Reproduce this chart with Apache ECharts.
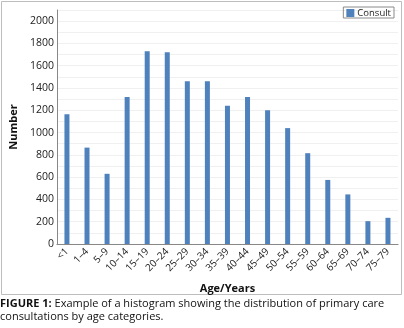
<!DOCTYPE html>
<html><head><meta charset="utf-8">
<script src="https://cdn.jsdelivr.net/npm/echarts@6/dist/echarts.min.js"></script>
<style>html,body{margin:0;padding:0;background:#fff}#c{width:404px;height:328px}</style>
</head><body><div id="c"></div>
<script>
const categories = ['<1','1–4','5–9','10–14','15–19','20–24','25–29','30–34','35–39','40–44','45–49','50–54','55–59','60–64','65–69','70–74','75–79'];
const consult = [1165,865,630,1320,1730,1720,1460,1460,1240,1320,1200,1040,815,575,445,205,235];
const yTickLabels = [0,200,400,600,800,1000,1200,1400,1600,1800,2000];
const captionLine1 = ['FIGURE 1:', 'Example of a histogram showing the distribution of primary care'];
const captionLine2 = 'consultations by age categories.';

const F = "'Open Sans', sans-serif";
const chart = echarts.init(document.getElementById('c'), null, {renderer:'canvas'});
chart.setOption({
  animation:false,
  textStyle:{fontFamily:F},
  grid:{left:46,right:6,top:10,bottom:84},
  legend:{
    data:['Consult'], right:10, top:7, orient:'horizontal',
    borderColor:'#8a8a8a', borderWidth:1, padding:[1,3,0,3],
    itemWidth:8, itemHeight:8, itemGap:4,
    icon:'rect',
    textStyle:{fontFamily:F,fontSize:9.5,color:'#222',padding:[0,0,0,-2]}
  },
  xAxis:{
    type:'category', data:categories,
    name:'Age/Years', nameLocation:'middle', nameGap:39,
    nameTextStyle:{fontFamily:F,fontSize:11,fontWeight:'bold',color:'#111'},
    axisLine:{lineStyle:{color:'#888',width:1}},
    axisTick:{show:false},
    axisLabel:{rotate:45,fontSize:10,color:'#222',fontFamily:F,interval:0,margin:6}
  },
  yAxis:{
    type:'value', min:0, max:2100, interval:100,
    name:'Number', nameLocation:'middle', nameGap:34,
    nameTextStyle:{fontFamily:F,fontSize:11,fontWeight:'bold',color:'#111'},
    axisLine:{show:true,lineStyle:{color:'#888',width:1}},
    axisTick:{show:false},
    axisLabel:{fontSize:10.5,color:'#222',fontFamily:F,margin:3,
      formatter:v=> yTickLabels.indexOf(v)>=0 ? String(v) : ''},
    splitLine:{show:true,lineStyle:{color:'#f0f0f0',width:1}}
  },
  series:[{
    name:'Consult', type:'bar', data:consult, barWidth:5,
    itemStyle:{color:'#4f81bd'}
  }],
  graphic:[
    {type:'rect',shape:{x:1.5,y:1.5,width:400,height:293},style:{fill:null,stroke:'#bdbdbd',lineWidth:1},silent:true},
    {type:'text',left:0,top:298,style:{
      text:'{b|'+captionLine1[0]+'} '+captionLine1[1],
      rich:{b:{fontWeight:'bold',fontFamily:F,fontSize:11,fill:'#111'}},
      font:"11px 'Open Sans', sans-serif", fill:'#111'}},
    {type:'text',left:0,top:311,style:{text:captionLine2,font:"11px 'Open Sans', sans-serif",fill:'#111'}}
  ]
});
</script></body></html>
